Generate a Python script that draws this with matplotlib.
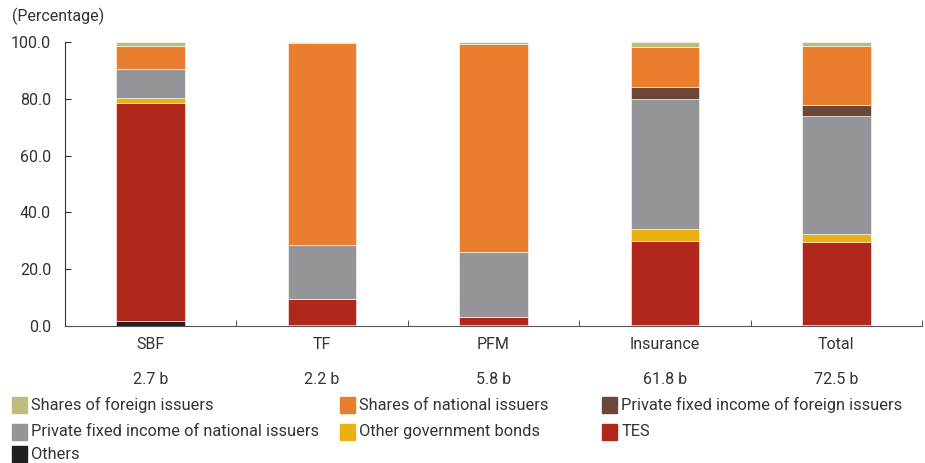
import matplotlib
matplotlib.use('Agg')
import matplotlib.pyplot as plt
import numpy as np

plt.rcParams['font.family'] = ['Roboto', 'DejaVu Sans']

categories = ['SBF', 'TF', 'PFM', 'Insurance', 'Total']
sizes = ['2.7 b', '2.2 b', '5.8 b', '61.8 b', '72.5 b']

# stacked from bottom to top
others = [1.9, 0.3, 0.5, 0.5, 0.5]
tes = [76.6, 9.1, 2.6, 29.5, 29.0]
other_gov = [1.8, 0.0, 0.0, 4.2, 3.0]
priv_national = [10.3, 19.0, 23.1, 45.6, 41.4]
priv_foreign = [0.0, 0.0, 0.0, 4.5, 4.0]
shares_national = [8.1, 71.4, 73.1, 13.8, 20.8]
shares_foreign = [1.3, 0.2, 0.7, 1.9, 1.3]

series = [
    ('Others', others, '#231f20'),
    ('TES', tes, '#b0281c'),
    ('Other government bonds', other_gov, '#eab210'),
    ('Private fixed income of national issuers', priv_national, '#939598'),
    ('Private fixed income of foreign issuers', priv_foreign, '#6b4739'),
    ('Shares of national issuers', shares_national, '#e97e2f'),
    ('Shares of foreign issuers', shares_foreign, '#bcbc7e'),
]

txt = '#333333'
fig = plt.figure(figsize=(9.25, 4.63), dpi=100)
ax = fig.add_axes([0.0703, 0.2959, 0.9265, 0.6134])

x = np.arange(len(categories))
bottom = np.zeros(len(categories))
for name, vals, col in series:
    ax.bar(x, vals, 0.4, bottom=bottom, color=col, edgecolor='white', linewidth=0.4)
    bottom += np.array(vals)

ax.set_xlim(-0.5, 4.5)
ax.set_ylim(0, 100)
ax.set_yticks(np.arange(0, 101, 20))
ax.set_yticklabels(['%.1f' % v for v in np.arange(0, 101, 20)], fontsize=11.5, color=txt)
ax.tick_params(axis='y', direction='in', length=4, pad=10, color='#333333')
ax.set_xticks(x)
ax.set_xticklabels([c + '\n\n' + s for c, s in zip(categories, sizes)], fontsize=11.5,
                   color=txt, linespacing=1.2)
ax.tick_params(axis='x', length=0, pad=8)
ax.set_xticks(np.arange(0.5, 4.6, 1), minor=True)
ax.tick_params(axis='x', which='minor', direction='in', length=4, color='#333333')
for s in ['top', 'right']:
    ax.spines[s].set_visible(False)
ax.spines['left'].set_color('#333333')
ax.spines['bottom'].set_color('#555555')

fig.text(0.013, 0.955, '(Percentage)', fontsize=11.5, color=txt)

order = ['Shares of foreign issuers', 'Shares of national issuers',
         'Private fixed income of foreign issuers',
         'Private fixed income of national issuers', 'Other government bonds',
         'TES', 'Others']
cols = {n: c for n, v, c in series}
pos = [(0.013, 0.108), (0.3676, 0.108), (0.651, 0.108),
       (0.013, 0.050), (0.3676, 0.050), (0.651, 0.050),
       (0.013, 0.002)]
for name, (px, py) in zip(order, pos):
    fig.patches.append(plt.Rectangle((px, py), 0.0162, 0.034, color=cols[name],
                                     transform=fig.transFigure, figure=fig))
    fig.text(px + 0.0205, py + 0.017, name, fontsize=11.8, color=txt, va='center')

fig.savefig('out.png', dpi=100)
